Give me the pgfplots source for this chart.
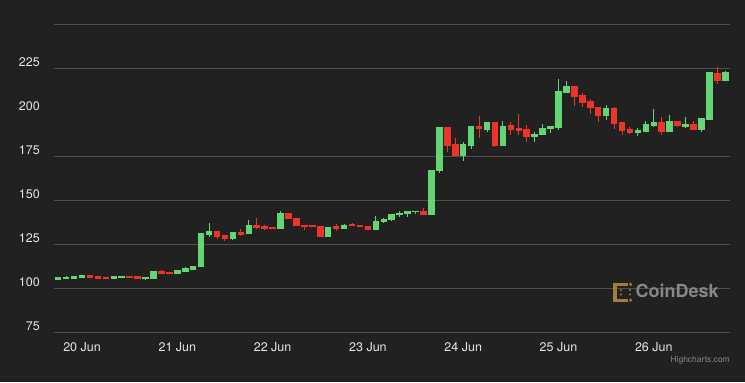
\documentclass[border=0pt]{standalone}
\usepackage{fontspec}
\setmainfont{TeX Gyre Heros}
\usepackage{pgfplots}
\usepackage{pgfplotstable}
\pgfplotsset{compat=1.18}
\definecolor{bg}{RGB}{33,33,33}
\definecolor{cg}{RGB}{98,214,115}
\definecolor{cr}{RGB}{239,51,39}
\definecolor{gridc}{RGB}{78,78,78}
\definecolor{lbl}{RGB}{230,230,230}
\definecolor{gold}{RGB}{160,128,48}
\definecolor{wm}{RGB}{135,135,135}

\pgfplotstableread{
x o h l c
-3 104.8 106.5 104.8 106.5
-2 105.3 107.0 105.3 106.5
-1 105.3 107.0 105.3 107.0
0 105.9 107.6 105.9 107.6
1 107.6 107.6 105.9 105.9
2 107.0 107.0 105.3 105.3
3 106.5 106.5 105.3 105.3
4 105.3 107.0 105.3 107.0
5 105.9 107.0 105.9 107.0
6 107.0 107.0 105.9 105.9
7 107.0 107.0 105.3 105.3
8 105.3 106.5 104.8 106.5
9 105.3 109.9 105.3 109.9
10 109.9 110.5 108.2 108.2
11 109.3 109.3 108.2 108.2
12 108.2 110.5 108.2 110.5
13 109.3 112.2 109.3 111.6
14 110.5 112.8 110.5 112.8
15 112.2 131.5 112.2 131.5
16 130.4 137.2 129.3 132.7
17 132.7 132.7 128.1 129.3
18 130.4 130.4 127.0 128.1
19 128.1 132.1 127.5 132.1
20 132.1 133.8 129.8 130.4
21 131.0 139.0 131.0 136.1
22 136.1 140.0 133.8 134.3
23 135.5 136.1 133.3 133.8
24 135.0 135.0 133.8 133.8
25 133.8 144.1 133.8 142.9
26 142.9 142.9 139.5 139.5
27 140.1 140.1 135.5 135.5
28 136.1 136.1 133.3 135.0
29 136.1 136.1 135.0 135.0
30 135.5 135.5 129.3 129.3
31 129.3 135.0 129.3 135.0
32 135.5 136.7 132.7 133.8
33 133.8 136.7 133.8 136.1
34 136.7 137.2 135.5 135.5
35 136.1 136.1 135.0 135.0
36 135.5 135.5 133.3 133.3
37 133.3 141.2 133.3 138.4
38 137.8 140.1 137.2 139.5
39 139.0 142.4 138.4 142.4
40 141.8 144.1 140.7 142.9
41 142.4 144.1 140.7 144.1
42 143.5 144.1 142.4 144.1
43 144.1 145.8 141.8 141.8
44 141.8 167.4 141.8 167.4
45 166.8 191.9 165.7 191.9
46 191.9 191.9 177.7 181.0
47 182.2 185.6 175.3 175.3
48 175.3 183.4 172.5 182.2
49 181.0 192.4 179.4 192.4
50 192.4 198.1 185.6 190.7
51 190.2 194.8 189.1 194.8
52 194.8 194.8 180.5 181.0
53 181.0 195.3 181.0 192.4
54 193.0 194.8 187.3 190.2
55 191.3 199.3 187.3 189.6
56 190.7 193.0 183.4 186.2
57 186.2 189.1 183.4 188.0
58 187.3 193.6 187.3 191.3
59 190.7 192.4 188.5 192.4
60 191.3 219.3 190.2 212.4
61 211.2 218.1 211.2 215.2
62 215.2 215.2 203.8 208.9
63 210.1 211.2 203.3 205.5
64 206.6 207.8 199.3 202.7
65 203.3 203.3 194.8 198.1
66 198.1 204.4 195.9 202.7
67 202.7 203.3 190.7 193.6
68 194.8 194.8 187.3 189.6
69 190.7 191.9 187.9 188.5
70 188.5 191.3 186.8 190.2
71 189.1 195.3 189.1 193.6
72 192.4 202.1 191.9 194.8
73 194.8 197.6 187.3 189.1
74 189.1 198.7 189.1 195.3
75 195.3 195.3 191.9 192.4
76 191.9 197.6 191.3 193.6
77 193.6 195.3 190.2 190.2
78 190.2 197.0 189.1 197.0
79 195.9 223.2 195.9 223.2
80 222.6 226.1 216.4 218.1
81 218.1 223.8 218.1 223.2
}\data

\begin{document}
\begin{tikzpicture}[x=1bp,y=1bp]
\fill[bg] (0,0) rectangle (745,382);
\begin{axis}[
  at={(54bp,49.7bp)}, anchor=south west,
  scale only axis, width=676bp, height=307.3bp,
  xmin=-3.53, xmax=81.6, ymin=75, ymax=250,
  axis line style={draw=none},
  major tick length=0pt,
  tick style={draw=none},
  xtick={0,12,...,72},
  xticklabels={20 Jun,21 Jun,22 Jun,23 Jun,24 Jun,25 Jun,26 Jun},
  ytick={75,100,125,150,175,200,225},
  yticklabels={75,100,125,150,175,200,225},
  extra y ticks={75,100,125,150,175,225,250},
  extra y tick labels={},
  extra y tick style={grid=major},
  major grid style={draw=gridc, line width=1bp},
  ticklabel style={font=\fontsize{12.5bp}{15bp}\selectfont, text=lbl, inner sep=0pt},
  yticklabel style={anchor=base east, xshift=-14bp, yshift=2bp},
  xticklabel style={anchor=base, yshift=-19.4bp},
  /pgf/number format/assume math mode=true,
  unbounded coords=discard,
  clip=false,
]
% wicks
\addplot[draw=none, mark=none, forget plot,
  y filter/.expression={\thisrow{c}>\thisrow{o} ? y : nan},
  error bars/.cd, y dir=plus, y explicit, error mark=none,
  error bar style={draw=cg, line width=1bp}]
  table[x=x, y=l, y error plus expr=\thisrow{h}-\thisrow{l}] {\data};
\addplot[draw=none, mark=none, forget plot,
  y filter/.expression={\thisrow{c}<\thisrow{o} ? y : nan},
  error bars/.cd, y dir=plus, y explicit, error mark=none,
  error bar style={draw=cr, line width=1bp}]
  table[x=x, y=l, y error plus expr=\thisrow{h}-\thisrow{l}] {\data};
% bodies
\addplot[draw=none, mark=none, forget plot,
  y filter/.expression={\thisrow{c}>\thisrow{o} ? y : nan},
  error bars/.cd, y dir=plus, y explicit, error mark=none,
  error bar style={draw=cg, line width=6.5bp}]
  table[x=x, y=o, y error plus expr=\thisrow{c}-\thisrow{o}] {\data};
\addplot[draw=none, mark=none, forget plot,
  y filter/.expression={\thisrow{c}<\thisrow{o} ? y : nan},
  error bars/.cd, y dir=plus, y explicit, error mark=none,
  error bar style={draw=cr, line width=6.5bp}]
  table[x=x, y=c, y error plus expr=\thisrow{o}-\thisrow{c}] {\data};
\end{axis}
% CoinDesk watermark
\begin{scope}[gold]
  \fill (612.5,80) rectangle (616.5,99);
  \fill (612.5,96) rectangle (628,99.5);
  \fill (612.5,80) rectangle (628,83.5);
  \fill (630.5,97.7) circle (1.7);
  \fill (630.5,81.8) circle (1.7);
  \fill (621,92) circle (1.1);
  \fill (621,87.5) circle (1.1);
  \fill (630,92) circle (1.1);
  \fill (630,87.5) circle (1.1);
\end{scope}
\node[anchor=base west, inner sep=0pt, text=wm, font=\fontsize{18bp}{20bp}\selectfont\bfseries] at (635.5,84.5) {CoinDesk};
\node[anchor=base east, inner sep=0pt, text=wm, font=\fontsize{8.5bp}{10bp}\selectfont] at (730,20) {Highcharts.com};
\end{tikzpicture}
\end{document}
